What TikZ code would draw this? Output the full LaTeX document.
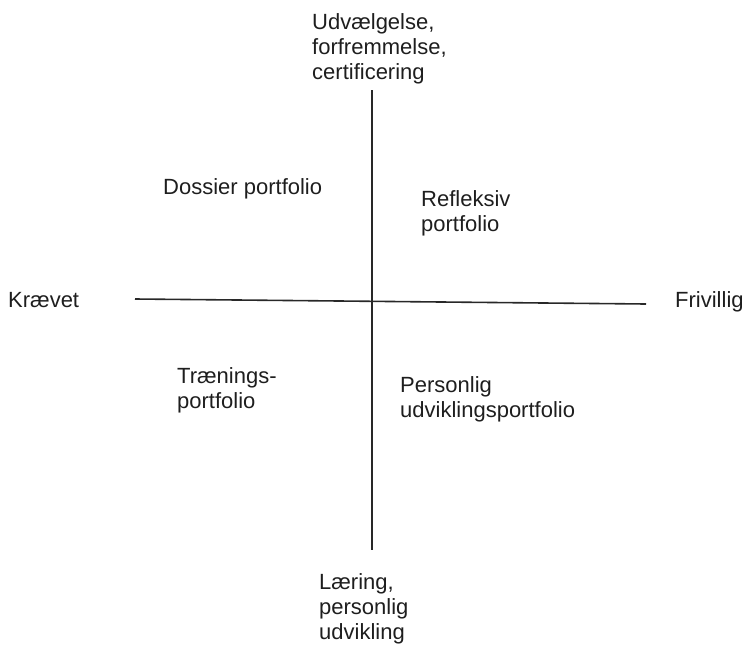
\documentclass[tikz,border=0pt]{standalone}
\usepackage{fontspec}
\setmainfont{Liberation Sans}
\usetikzlibrary{positioning}
\definecolor{axisgray}{RGB}{40, 40, 40}
\definecolor{labelgray}{RGB}{30, 30, 30}

\begin{document}
\begin{tikzpicture}[x=1pt, y=-1pt,
  lbl/.style={anchor=base west, align=left, inner sep=0pt, text=labelgray,
    font=\fontsize{22}{25}\selectfont},
  axis/.style={line width=1.6pt, axisgray}]
  \useasboundingbox (0,0) rectangle (745,646);

  % axes
  \coordinate (top) at (372, 90);
  \coordinate (bottom) at (372, 550);
  \coordinate (left) at (135, 299);
  \coordinate (right) at (646, 304);
  \draw[axis] (top) -- (bottom);
  \draw[axis] (left) -- (right);

  % axis ends (base = last line)
  \node[lbl] (select) at (312, 79) {Udvælgelse,\\forfremmelse,\\certificering};
  \node[lbl] (learn) at (319, 639) {Læring,\\personlig\\udvikling};
  \node[lbl] (required) at (8, 307) {Krævet};
  \node[lbl] (voluntary) at (675, 307) {Frivillig};

  % quadrants
  \node[lbl] (dossier) at (163, 194) {Dossier portfolio};
  \node[lbl] (reflect) at (421, 231) {Refleksiv\\portfolio};
  \node[lbl] (training) at (177, 408) {Trænings-\\portfolio};
  \node[lbl] (personal) at (400, 417) {Personlig\\udviklingsportfolio};
\end{tikzpicture}
\end{document}
